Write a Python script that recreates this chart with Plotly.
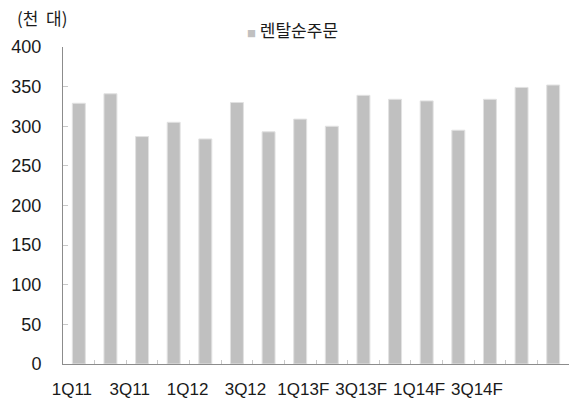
import plotly.graph_objects as go

# Quarterly rental net orders (thousand units); F = forecast
quarters = ["1Q11", "2Q11", "3Q11", "4Q11",
            "1Q12", "2Q12", "3Q12", "4Q12",
            "1Q13F", "2Q13F", "3Q13F", "4Q13F",
            "1Q14F", "2Q14F", "3Q14F", "4Q14F"]
net_orders = [329, 341, 287, 305, 284, 330, 293, 309,
              300, 339, 334, 332, 295, 334, 349, 352]
series_name = "렌탈순주문"
unit_label = "(천 대)"

W, H = 569, 401
ML, MR, MT, MB = 63, 0, 47, 37
BAR = "#c0c0c0"
AXIS = "#8c8c8c"
TICK = "#c8c8c8"
TXT = "#1a1a1a"
NUM_FONT = "Liberation Sans"
KR_FONT = "Noto Sans CJK KR"

fig = go.Figure()
fig.add_trace(go.Bar(
    x=quarters, y=net_orders, name=series_name,
    marker=dict(color=BAR, line=dict(color="#e2e2e2", width=1)),
    showlegend=False,
))

# every other quarter is labelled, spread evenly along the bottom
labels = quarters[::2]
n = len(quarters)
first, step = 0.28, 1.83
label_pos = [first + step * i for i in range(len(labels))]

fig.update_layout(
    width=W, height=H,
    margin=dict(l=ML, r=MR, t=MT, b=MB),
    paper_bgcolor="white", plot_bgcolor="white",
    bargap=0.59,
    xaxis=dict(
        type="category", showticklabels=False,
        tickson="boundaries", ticks="inside", ticklen=4, tickcolor=TICK,
        showline=True, linecolor=AXIS, linewidth=1,
        showgrid=False, zeroline=False,
        range=[-0.5, n - 0.5], fixedrange=True,
    ),
    xaxis2=dict(
        overlaying="x", anchor="y", side="bottom",
        range=[0, n], tickmode="array",
        tickvals=label_pos, ticktext=labels,
        ticks="", showline=False, showgrid=False, zeroline=False,
        tickfont=dict(family=NUM_FONT, size=17, color=TXT),
        ticklabelstandoff=13,
    ),
    yaxis=dict(
        range=[0, 400], dtick=50,
        ticks="inside", ticklen=5, tickcolor=TICK,
        showline=True, linecolor=AXIS, linewidth=1,
        showgrid=False, zeroline=False,
        tickfont=dict(family=NUM_FONT, size=18, color=TXT),
        ticklabelstandoff=17,
    ),
    annotations=[
        dict(text=unit_label.replace(" ", "&nbsp;&nbsp;"),
             xref="paper", yref="paper",
             x=(15 - ML) / (W - ML - MR), y=1 + (MT - 18) / (H - MT - MB),
             xanchor="left", yanchor="middle", showarrow=False,
             font=dict(family=KR_FONT, size=17, color=TXT)),
        dict(text=f"<span style='font-size:9px;color:{BAR}'>■</span> {series_name}",
             xref="paper", yref="paper",
             x=(245 - ML) / (W - ML - MR), y=1 + (MT - 30) / (H - MT - MB),
             xanchor="left", yanchor="middle", showarrow=False,
             font=dict(family=KR_FONT, size=17, color=TXT)),
    ],
)

# invisible trace so the label axis is attached to the figure
fig.add_trace(go.Scatter(x=[0], y=[0], xaxis="x2", mode="markers",
                         marker=dict(opacity=0), showlegend=False,
                         hoverinfo="skip"))

fig.write_html("out.html")
